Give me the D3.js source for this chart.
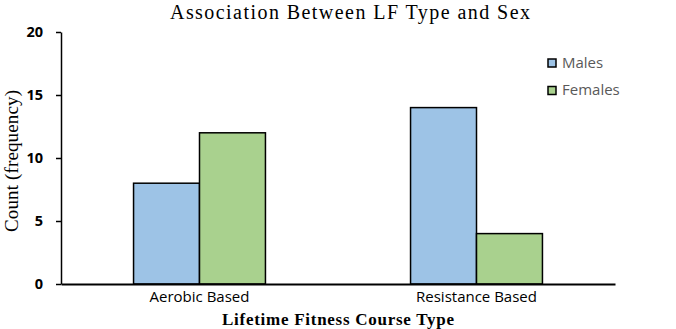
<!DOCTYPE html>
<html>
<head>
<meta charset="utf-8">
<script src="https://cdn.jsdelivr.net/npm/d3@7"></script>
<style>
  html, body { margin: 0; padding: 0; background: #fff; }
  svg { display: block; }
</style>
</head>
<body>
<svg id="chart" width="676" height="329"></svg>
<script>
// Course types and counts by sex
const categories = ["Aerobic Based", "Resistance Based"];
const seriesNames = ["Males", "Females"];
const males = [8, 14];
const females = [12, 4];
const yTicks = [0, 5, 10, 15, 20];

const colors = { Males: "#9dc3e6", Females: "#a9d18e" };
const sansFont = "'Open Sans', 'Liberation Sans', sans-serif";
const serifFont = "'Liberation Serif', 'DejaVu Serif', serif";

const svg = d3.select("#chart");

const x = d3.scaleBand().domain(categories).range([61, 615]).paddingInner(0).paddingOuter(0);
const xs = d3.scaleBand().domain(seriesNames).range([0, x.bandwidth()]).paddingInner(0).paddingOuter(1.1);
const y = d3.scaleLinear().domain([0, 20]).range([284, 32]);

const rows = categories.map((c, i) => ({ cat: c, Males: males[i], Females: females[i] }));

// bars
const g = svg.append("g");
rows.forEach(r => {
  seriesNames.forEach(s => {
    g.append("rect")
      .attr("x", x(r.cat) + xs(s))
      .attr("y", y(r[s]))
      .attr("width", xs.bandwidth())
      .attr("height", y(0) - y(r[s]))
      .attr("fill", colors[s])
      .attr("stroke", "#000")
      .attr("stroke-width", 1.5);
  });
});

// y axis
const yAxis = svg.append("g")
  .attr("transform", "translate(61,0)")
  .call(d3.axisLeft(y).tickValues(yTicks).tickSize(5).tickPadding(13).tickSizeOuter(0));
yAxis.select(".domain").attr("stroke", "#000").attr("stroke-width", 1.5);
yAxis.selectAll(".tick line").attr("stroke", "#000").attr("stroke-width", 1.5);
yAxis.selectAll(".tick text")
  .attr("font-family", sansFont).attr("font-weight", "bold").attr("font-size", 14.5).attr("fill", "#000");

// x axis
const xAxis = svg.append("g")
  .attr("transform", `translate(0,${y(0)})`)
  .call(d3.axisBottom(x).tickSize(0).tickPadding(7));
xAxis.select(".domain").attr("stroke", "#000").attr("stroke-width", 2.2);
xAxis.selectAll(".tick text")
  .attr("font-family", sansFont).attr("font-size", 15).attr("fill", "#000");

// title and axis labels
svg.append("text")
  .attr("x", 350).attr("y", 19)
  .attr("text-anchor", "middle")
  .attr("font-family", serifFont).attr("font-size", 20).attr("fill", "#000")
  .attr("textLength", 360).attr("lengthAdjust", "spacing")
  .text("Association Between LF Type and Sex");

svg.append("text")
  .attr("x", 338).attr("y", 325)
  .attr("text-anchor", "middle")
  .attr("font-family", serifFont).attr("font-weight", "bold").attr("font-size", 17).attr("fill", "#000")
  .attr("textLength", 232).attr("lengthAdjust", "spacing")
  .text("Lifetime Fitness Course Type");

svg.append("text")
  .attr("transform", "translate(18,161) rotate(-90)")
  .attr("text-anchor", "middle")
  .attr("font-family", serifFont).attr("font-size", 19).attr("fill", "#000")
  .attr("textLength", 142).attr("lengthAdjust", "spacing")
  .text("Count (frequency)");

// legend
const legend = svg.append("g").attr("transform", "translate(548,59)");
seriesNames.forEach((s, i) => {
  const row = legend.append("g").attr("transform", `translate(0,${i * 27.5})`);
  row.append("rect").attr("x", 0).attr("y", 0).attr("width", 8).attr("height", 8)
    .attr("fill", colors[s]).attr("stroke", "#000").attr("stroke-width", 1.5);
  row.append("text").attr("x", 14).attr("y", 8.5)
    .attr("font-family", sansFont).attr("font-size", 15).attr("fill", "#595959")
    .text(s);
});
</script>
</body>
</html>
